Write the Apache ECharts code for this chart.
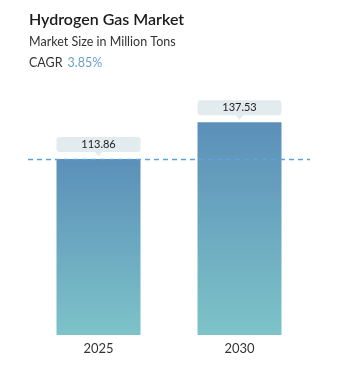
<!DOCTYPE html>
<html><head><meta charset="utf-8">
<script src="https://cdn.jsdelivr.net/npm/echarts@6/dist/echarts.min.js"></script>
<style>html,body{margin:0;padding:0;background:#fff}#c{width:342px;height:368px}</style>
</head><body><div id="c"></div>
<script>
const categories = ['2025', '2030'];
const values = [113.86, 137.53];
const titleText = 'Hydrogen Gas Market';
const subtitleText = 'Market Size in Million Tons';
const cagrText = '3.85%';

const FONT = 'Lato, "Open Sans", sans-serif';
const chart = echarts.init(document.getElementById('c'));
chart.setOption({
  animation: false,
  title: [
    {text: titleText, left: 29, top: 12, padding: 0, textStyle: {fontFamily: FONT, fontSize: 16, fontWeight: 600, color: '#1a1a1a'}},
    {text: subtitleText, left: 29, top: 35, padding: 0, textStyle: {fontFamily: FONT, fontSize: 12.5, fontWeight: 400, color: '#333'}},
    {text: '{a|CAGR} {b|' + cagrText + '}', left: 29, top: 54, padding: 0, textStyle: {fontWeight: 400, rich: {
      a: {fontFamily: FONT, fontSize: 12.5, fontWeight: 400, color: '#333'},
      b: {fontFamily: FONT, fontSize: 12.5, fontWeight: 400, color: '#6a9fcb'}}}}
  ],
  grid: {left: 28, right: 32, top: 103, bottom: 33},
  xAxis: {
    type: 'category', data: categories,
    axisLine: {show: false}, axisTick: {show: false},
    axisLabel: {fontFamily: FONT, fontSize: 13, color: '#333', margin: 7}
  },
  yAxis: {type: 'value', min: 0, max: 150, show: false, splitLine: {show: false}},
  series: [{
    type: 'bar', data: values, barWidth: 84, z: 2,
    itemStyle: {color: new echarts.graphic.LinearGradient(0, 0, 0, 1, [
      {offset: 0, color: '#5b8fb9'}, {offset: 1, color: '#7dc3c8'}])},
    label: {
      show: true, position: 'top', distance: 7,
      fontFamily: FONT, fontSize: 11, color: '#222',
      backgroundColor: '#e2ebee', borderRadius: 3,
      width: 84, height: 11, lineHeight: 11, align: 'center', padding: [2, 0, 2, 0],
      formatter: p => p.value.toFixed(2)
    },
    markPoint: {
      symbol: 'triangle', symbolRotate: 180, symbolSize: [8, 5], symbolOffset: [0, -5],
      itemStyle: {color: '#e2ebee'}, label: {show: false},
      data: categories.map((c, i) => ({coord: [c, values[i]]}))
    }
  }, {
    type: 'line', data: [], z: 1,
    markLine: {
      silent: true, symbol: 'none', precision: 2,
      lineStyle: {type: [5, 4], color: '#5fa3dc', width: 1.3, opacity: 1},
      emphasis: {disabled: true},
      label: {show: false},
      data: [{yAxis: values[0]}]
    }
  }]
});
</script></body></html>
